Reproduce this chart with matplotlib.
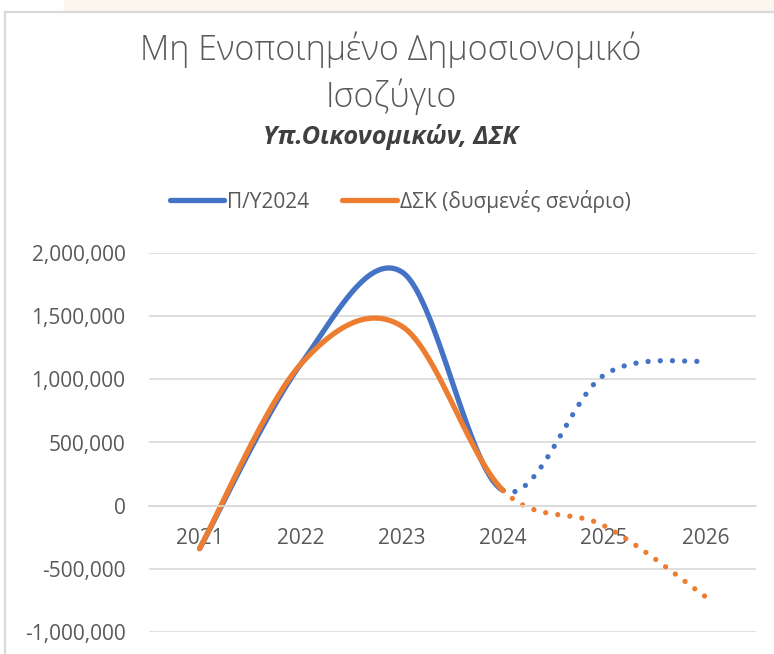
import matplotlib.pyplot as plt
import numpy as np
from matplotlib.lines import Line2D
from matplotlib.patches import Rectangle

plt.rcParams['font.family'] = ['Open Sans', 'DejaVu Sans']

years = [2021, 2022, 2023, 2024, 2025, 2026]
budget = [-340000, 1120000, 1850000, 120000, 1035000, 1145000]
dsk = [-340000, 1120000, 1420000, 120000, -160000, -720000]
name_budget = 'Π/Υ2024'
name_dsk = 'ΔΣΚ (δυσμενές σενάριο)'
last_actual = 3  # 2024: after this the lines are dotted

blue = '#4472C4'
orange = '#ED7D31'
grey = '#595959'
gridc = '#D9D9D9'


def smooth(x, y, n=40):
    # excel-like smoothing: bezier with catmull-rom control points
    x = np.asarray(x, float)
    y = np.asarray(y, float)
    segs = []
    m = len(x)
    t = np.linspace(0, 1, n)[:, None]
    for i in range(m - 1):
        a = max(i - 1, 0)
        b = min(i + 2, m - 1)
        p0 = np.array([x[i], y[i]])
        p3 = np.array([x[i + 1], y[i + 1]])
        c1 = p0 + (p3 - np.array([x[a], y[a]])) / 6
        c2 = p3 - (np.array([x[b], y[b]]) - p0) / 6
        pts = (1 - t) ** 3 * p0 + 3 * (1 - t) ** 2 * t * c1 + 3 * (1 - t) * t ** 2 * c2 + t ** 3 * p3
        segs.append(pts)
    return segs


fig = plt.figure(figsize=(7.74, 6.54), dpi=100)

# frame of the excel chart
fig.patches.append(Rectangle((64 / 774, 1 - 10 / 654), 1, 10 / 654, transform=fig.transFigure,
                             color='#FBF6EE', zorder=0))
fig.add_artist(Line2D([5 / 774, 1], [1 - 11.5 / 654] * 2, color=gridc, lw=1.6))
fig.add_artist(Line2D([5 / 774] * 2, [0, 1 - 11.5 / 654], color=gridc, lw=1.6))

ax = fig.add_axes([149 / 774, 22 / 654, 607 / 774, 379 / 654])

for vals, col in [(budget, blue), (dsk, orange)]:
    segs = smooth(range(len(years)), vals)
    solid = np.vstack(segs[:last_actual])
    dotted = np.vstack(segs[last_actual:])
    ax.plot(solid[:, 0], solid[:, 1], color=col, lw=3.8, solid_capstyle='round')
    ax.plot(dotted[:, 0], dotted[:, 1], color=col, lw=3.8, linestyle=(0, (0.01, 2.3)),
            dash_capstyle='round')

ax.set_xlim(-0.5, len(years) - 0.5)
ax.set_ylim(-1000000, 2000000)
ax.set_yticks(np.arange(-1000000, 2000001, 500000))
ax.yaxis.set_major_formatter(plt.FuncFormatter(lambda v, p: f'{v:,.0f}'))
ax.set_xticks(range(len(years)))
ax.set_xticklabels([str(y) for y in years])
ax.grid(axis='y', color=gridc, lw=1.2)
ax.set_axisbelow(True)
for s in ['top', 'right', 'left']:
    ax.spines[s].set_visible(False)
ax.spines['bottom'].set_position(('data', 0))
ax.spines['bottom'].set_color(gridc)
ax.spines['bottom'].set_linewidth(1.2)
ax.tick_params(axis='y', length=0, pad=17, labelsize=15, labelcolor=grey)
ax.tick_params(axis='x', length=0, pad=16, labelsize=15, labelcolor=grey)

fig.text(0.505, 1 - 50 / 654, 'Μη Ενοποιημένο Δημοσιονομικό', ha='center', va='center',
         fontsize=24.5, color=grey, fontweight='light')
fig.text(0.505, 1 - 97 / 654, 'Ισοζύγιο', ha='center', va='center', fontsize=24.5, color=grey,
         fontweight='light')
fig.text(0.505, 1 - 137 / 654, 'Υπ.Οικονομικών, ΔΣΚ', ha='center', va='center', fontsize=18.3,
         color='#404040', fontweight='bold', fontstyle='italic')

handles = [Line2D([], [], color=blue, lw=3.8, solid_capstyle='round'),
           Line2D([], [], color=orange, lw=3.8, solid_capstyle='round')]
fig.legend(handles, [name_budget, name_dsk], loc='center', bbox_to_anchor=(0.517, 1 - 201 / 654),
           ncol=2, frameon=False, fontsize=15, labelcolor=grey, handlelength=2.6,
           handletextpad=0.15, columnspacing=1.6)

fig.savefig('out.png', dpi=100)
